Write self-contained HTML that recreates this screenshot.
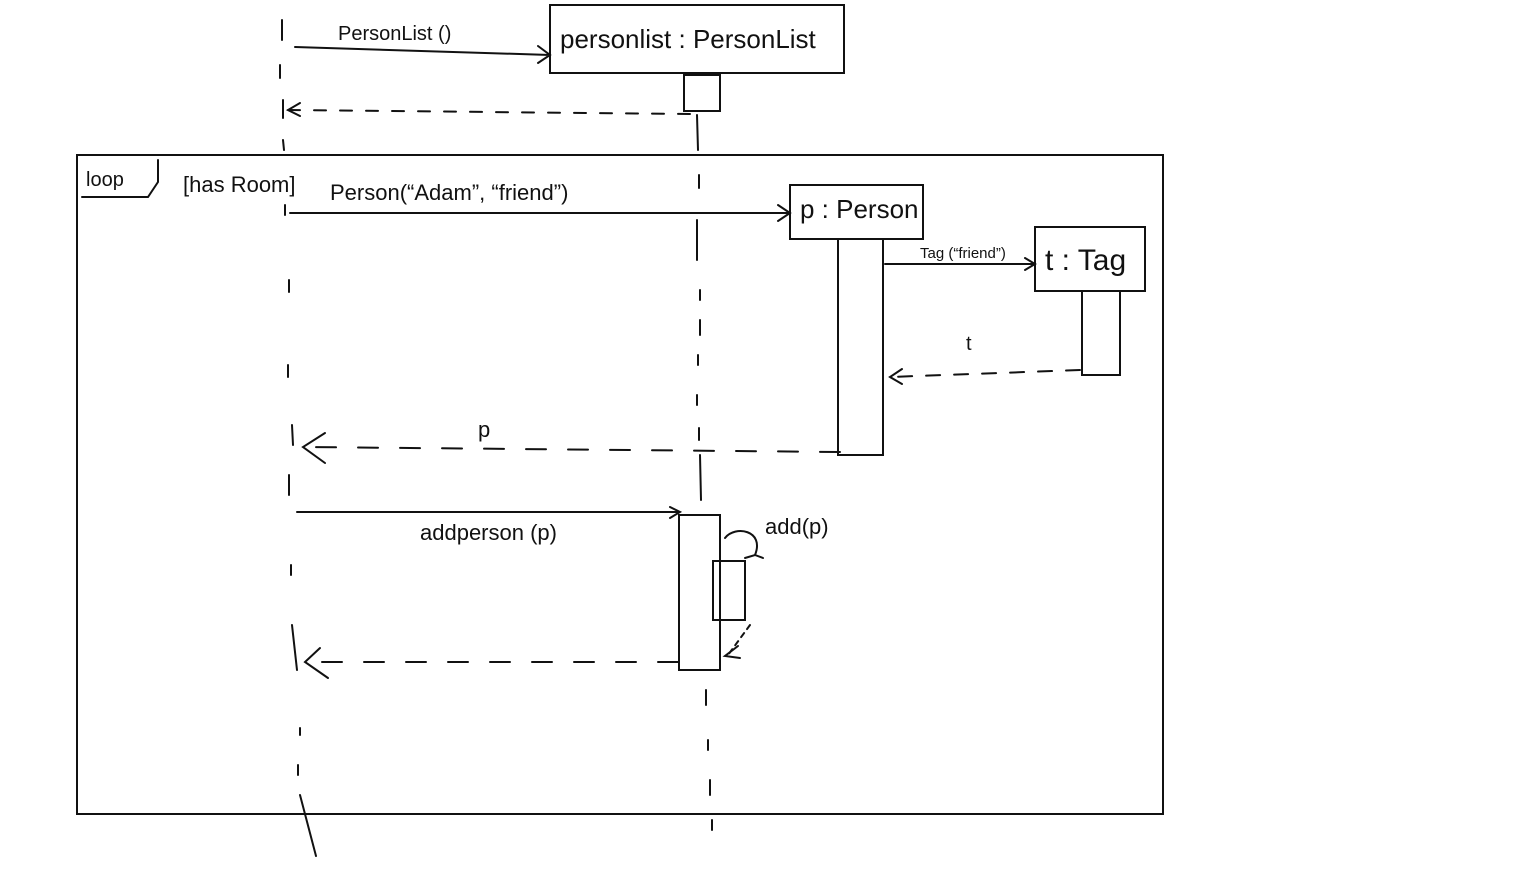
<!DOCTYPE html>
<html><head><meta charset="utf-8"><style>
html,body{margin:0;padding:0;background:#fff;}
svg{display:block}
text{font-family:"Liberation Sans",sans-serif;fill:#111}
</style></head><body>
<svg width="1536" height="892" viewBox="0 0 1536 892" xmlns="http://www.w3.org/2000/svg">
<g fill="none" stroke="#111" stroke-width="2" stroke-linecap="round">
<!-- left lifeline -->
<path d="M282 20 L282 40 M280 65 L280 78 M283 100 L283 118 M283 140 L284 150 M285 205 L285 215 M289 280 L289 292 M288 365 L288 377 M292 425 L293 445 M289 475 L289 495 M291 565 L291 575 M292 625 L297 670 M300 728 L300 735 M298 765 L298 775 M300 795 L316 856" stroke-dasharray="none"/>
<!-- middle lifeline -->
<path d="M697 115 L698 150 M699 175 L699 188 M697 220 L697 260 M700 290 L700 300 M700 320 L700 335 M698 355 L698 365 M697 395 L697 405 M699 428 L699 440 M700 455 L701 500 M706 690 L706 705 M708 740 L708 750 M710 780 L710 795 M712 820 L712 830"/>
<!-- personlist box -->
<rect x="550" y="5" width="294" height="68"/>
<rect x="684" y="75" width="36" height="36"/>
<!-- PersonList() arrow -->
<path d="M295 47 L550 55 M538 46 L550 55 L538 63"/>
<!-- return -->
<path d="M690 114 L288 110" stroke-dasharray="12 14"/>
<path d="M300 103 L288 110 L300 116"/>
<!-- loop frame -->
<rect x="77" y="155" width="1086" height="659"/>
<path d="M82 197 L148 197 L158 182 L158 160"/>
<!-- person creation -->
<path d="M290 213 L790 213 M778 205 L790 213 L778 221"/>
<rect x="790" y="185" width="133" height="54"/>
<rect x="838" y="239" width="45" height="216"/>
<path d="M885 264 L1035 264 M1025 258 L1035 264 L1025 270"/>
<rect x="1035" y="227" width="110" height="64"/>
<rect x="1082" y="291" width="38" height="84"/>
<path d="M1080 370 L890 377" stroke-dasharray="14 14"/>
<path d="M902 369 L890 377 L902 384"/>
<path d="M840 452 L303 447" stroke-dasharray="20 22"/>
<path d="M325 433 L303 447 L325 463"/>
<!-- addperson -->
<path d="M297 512 L680 512 M670 507 L680 512 L670 518"/>
<rect x="679" y="515" width="41" height="155"/>
<path d="M725 538 C735 525 765 530 755 555 M745 558 L755 555 L763 558"/>
<rect x="713" y="561" width="32" height="59"/>
<path d="M750 625 L728 655" stroke-dasharray="5 5"/>
<path d="M738 646 L725 656 L740 658"/>
<path d="M678 662 L305 662" stroke-dasharray="20 22"/>
<path d="M320 648 L305 662 L328 678"/>
</g>
<g font-size="22">
<text x="338" y="40" font-size="20">PersonList ()</text>
<text x="560" y="48" font-size="26">personlist : PersonList</text>
<text x="86" y="186" font-size="20">loop</text>
<text x="183" y="192" font-size="22">[has Room]</text>
<text x="330" y="200" font-size="22">Person(“Adam”, “friend”)</text>
<text x="800" y="218" font-size="26">p : Person</text>
<text x="920" y="258" font-size="15">Tag (“friend”)</text>
<text x="1045" y="270" font-size="30">t : Tag</text>
<text x="966" y="350" font-size="20">t</text>
<text x="478" y="437" font-size="22">p</text>
<text x="420" y="540" font-size="22">addperson (p)</text>
<text x="765" y="534" font-size="22">add(p)</text>
</g>
</svg>
</body></html>
